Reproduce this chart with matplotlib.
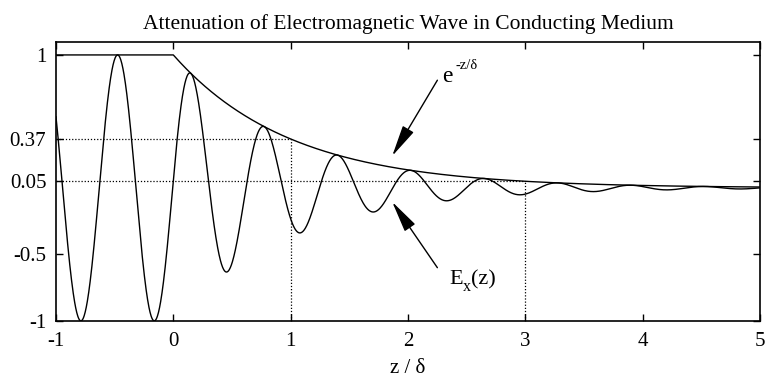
import numpy as np
import matplotlib
matplotlib.use("Agg")
import matplotlib.pyplot as plt

# ---- data / parameters ----
x_range = [-1, 5]
y_range = [-1, 1.1]
wave_number = 10.05      # oscillation wavenumber (in units of 1/delta)
peak_pos = -0.475        # position of a crest of the wave for z < 0
xticks = [-1, 0, 1, 2, 3, 4, 5]
yticks = [-1, -0.5, 0.05, 0.37, 1]
ytick_labels = ["-1", "-0.5", "0.05", "0.37", "1"]
ref_levels = [0.37, 0.05]       # dotted reference levels
ref_depths = [1, 3]             # dotted reference depths z/delta
title = "Attenuation of Electromagnetic Wave in Conducting Medium"
xlabel = "z / \u03b4"

z = np.linspace(x_range[0], x_range[1], 2000)
envelope = np.where(z < 0, 1.0, np.exp(-np.clip(z, 0, None)))
ex = envelope * np.cos(wave_number * (z - peak_pos))

plt.rcParams['font.family'] = ['Liberation Serif', 'DejaVu Serif']
fig = plt.figure(figsize=(7.67, 3.82), dpi=100)
ax = fig.add_axes([0.073, 0.160, 0.918, 0.731])

ax.plot(z, envelope, color='black', lw=1.0)
ax.plot(z, ex, color='black', lw=1.0)

# dotted reference lines
for lvl, d in zip(ref_levels, ref_depths):
    ax.plot([x_range[0], d], [lvl, lvl], color='black', lw=0.9, ls=(0, (1, 1.5)))
    ax.plot([d, d], [y_range[0], lvl], color='black', lw=0.9, ls=(0, (1, 1.5)))

ax.set_xlim(*x_range)
ax.set_ylim(*y_range)
ax.set_xticks(xticks)
ax.set_xticklabels([str(t) for t in xticks])
ax.set_yticks(yticks)
ax.set_yticklabels(ytick_labels)
ax.tick_params(direction='in', length=5, width=1, top=True, right=True,
               labelsize=15)
ax.tick_params(axis='x', pad=8)
ax.tick_params(axis='y', pad=7)
for s in ax.spines.values():
    s.set_linewidth(1.2)

ax.set_title(title, fontsize=15.5, pad=9)
ax.set_xlabel(xlabel, fontsize=15, labelpad=6)

arrow = dict(arrowstyle='-|>,head_length=1.3,head_width=0.26', color='black',
             lw=1.0, mutation_scale=15, shrinkA=0, shrinkB=0)
ax.annotate('', xy=(1.865, 0.24), xytext=(2.25, 0.81), arrowprops=arrow)
ax.annotate('', xy=(1.865, -0.105), xytext=(2.25, -0.60), arrowprops=arrow)

# e^{-z/delta}
ax.text(2.29, 0.84, 'e', fontsize=17, va='center', ha='left')
ax.annotate('-z/\u03b4', xy=(2.29, 0.84), xycoords='data', xytext=(9.5, 3),
            textcoords='offset points', fontsize=10.5, va='bottom', ha='left')
# E_x(z)
ax.text(2.355, -0.69, 'E', fontsize=16, va='center', ha='left')
ax.annotate('x', xy=(2.355, -0.69), xycoords='data', xytext=(9.5, -11),
            textcoords='offset points', fontsize=11.5, va='bottom', ha='left')
ax.annotate('(z)', xy=(2.355, -0.69), xycoords='data', xytext=(15.5, 0),
            textcoords='offset points', fontsize=16, va='center', ha='left')

fig.savefig('out.png', dpi=100)
